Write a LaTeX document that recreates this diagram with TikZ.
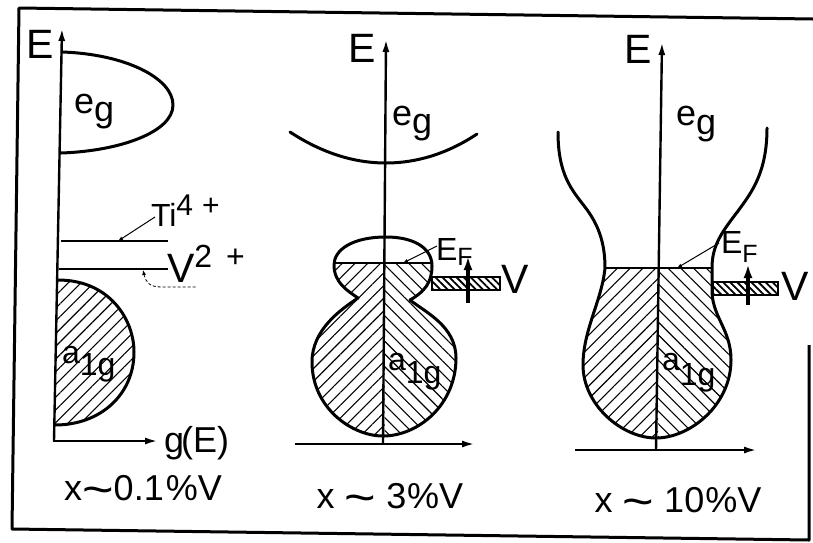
\documentclass[tikz,border=0pt]{standalone}
\usepackage{fontspec}
\usepackage{graphicx}
\setmainfont{Liberation Sans}
\usetikzlibrary{arrows.meta,patterns.meta}
\newcommand{\tld}{\raisebox{-5pt}{\scalebox{1.5}[1.3]{\symbol{"7E}}}}
\begin{document}
\begin{tikzpicture}[x=1pt,y=-1pt,
  lab/.style={inner sep=0pt,outer sep=0pt,font=\fontsize{36}{40}\selectfont},
  big/.style={inner sep=0pt,outer sep=0pt,font=\fontsize{41}{44}\selectfont},
  sml/.style={inner sep=0pt,outer sep=0pt,font=\fontsize{32}{36}\selectfont},
  frame/.style={line width=3pt,line join=round},
  curve/.style={line width=3pt,line join=round,line cap=round},
  level/.style={line width=2.4pt},
  axis/.style={line width=2.4pt,-{Latex[length=13pt,width=7pt]}},
  lead/.style={line width=1pt,{Latex[length=5pt,width=4pt]}-},
  hatchL/.style={pattern={Lines[angle=45,distance=9pt,line width=1.1pt]}},
  hatchR/.style={pattern={Lines[angle=-45,distance=9pt,line width=1.1pt]}},
  band/.style={line width=2.6pt,pattern={Lines[angle=-45,distance=5pt,line width=1.8pt]}},
  varrow/.style={line width=3.4pt,-{Latex[length=14pt,width=9pt]}}
]
\useasboundingbox (0,0) rectangle (813,542);
% frame
\coordinate (f1) at (19,8);
\coordinate (f2) at (813,19);
\coordinate (f3) at (809,345);
\coordinate (f4) at (809,540);
\coordinate (f5) at (12,529);
\draw[frame] (f2) -- (f1) -- (f5) -- (f4) -- (f3);

% ================= left panel =================
\coordinate (La0) at (54,441);
\coordinate (Latop) at (62,28);
\coordinate (Lah) at (53,441);
\coordinate (Laend) at (158,441);
% a1g lobe
\fill[hatchL] (58,280) .. controls (110,280) and (134,320) .. (134,352)
  .. controls (134,395) and (100,425) .. (55,425) -- cycle;
\draw[curve] (58,280) .. controls (110,280) and (134,320) .. (134,352)
  .. controls (134,395) and (100,425) .. (55,425);
% eg lobe
\draw[curve] (62,52) .. controls (125,54) and (173,78) .. (173,105)
  .. controls (173,132) and (120,151) .. (61,153);
% levels
\coordinate (Ti0) at (61,241); \coordinate (Ti1) at (168,241);
\coordinate (V0) at (59,269);  \coordinate (V1) at (168,269);
\draw[level] (Ti0) -- (Ti1);
\draw[level] (V0) -- (V1);
\draw[axis] (La0) -- (Latop);
\draw[axis] (Lah) -- (Laend);
\node[big] (LE) at (40,44) {E};
\node[lab,anchor=base west] (Leg) at (74,113) {e\raisebox{-8pt}{g}};
\node[sml,anchor=base west] (La1g) at (62,363) {a\raisebox{-12pt}{1g}};
\node[sml,anchor=base west] (LTi) at (151,226) {Ti\raisebox{11pt}{\fontsize{30}{30}\selectfont 4\hspace{9pt}+}};
\node[big,anchor=base west] (LV) at (167,282) {V\raisebox{15pt}{\fontsize{32}{32}\selectfont 2\hspace{14pt}+}};
\coordinate (TiL) at (118,241);
\coordinate (TiT) at (155,217);
\draw[lead] (TiL) -- (TiT);
\coordinate (VL) at (143,270);
\coordinate (VT) at (197,287);
\draw[lead,densely dashed,line width=0.8pt] (VL) .. controls (146,283) and (150,287) .. (162,287) -- (VT);
\node[lab,anchor=base west] (LgE) at (164,452) {g\kern-3pt(E)};
\node[lab,anchor=base] (Lx) at (143,500) {x\tld0.1\kern2pt\%V};

% ================= middle panel =================
\coordinate (Ma0) at (383,444);
\coordinate (Matop) at (386,39);
\coordinate (Mah) at (295,444);
\coordinate (Maend) at (475,444);
\begin{scope}
\clip (386,237) .. controls (352,237) and (334,250) .. (334,265)
  .. controls (334,283) and (348,291) .. (358,298)
  .. controls (340,310) and (312,330) .. (312,362)
  .. controls (312,408) and (352,436) .. (383,436)
  .. controls (418,436) and (456,405) .. (456,358)
  .. controls (456,326) and (425,312) .. (410,300)
  .. controls (424,292) and (432,283) .. (432,266)
  .. controls (432,248) and (414,237) .. (386,237) -- cycle;
\fill[hatchL] (300,263) rectangle (384.5,445);
\fill[hatchR] (384.5,263) rectangle (470,445);
\end{scope}
\draw[curve] (386,237) .. controls (352,237) and (334,250) .. (334,265)
  .. controls (334,283) and (348,291) .. (358,298)
  .. controls (340,310) and (312,330) .. (312,362)
  .. controls (312,408) and (352,436) .. (383,436)
  .. controls (418,436) and (456,405) .. (456,358)
  .. controls (456,326) and (425,312) .. (410,300)
  .. controls (424,292) and (432,283) .. (432,266)
  .. controls (432,248) and (414,237) .. (386,237) -- cycle;
\coordinate (MF0) at (334,263); \coordinate (MF1) at (432,263);
\draw[level] (MF0) -- (MF1);
% eg parabola
\draw[curve] (290,132) .. controls (322,153) and (354,163) .. (386,163)
  .. controls (416,163) and (447,154) .. (477,134);
\draw[axis] (Ma0) -- (Matop);
\draw[axis] (Mah) -- (Maend);
\node[big] (ME) at (362,48) {E};
\node[lab,anchor=base west] (Meg) at (392,125) {e\raisebox{-8pt}{g}};
\node[sml,anchor=base west] (Ma1g) at (388,370) {a\raisebox{-13pt}{1g}};
\node[sml,anchor=base west] (MEF) at (436,260) {E\raisebox{-5pt}{\fontsize{25}{25}\selectfont F}};
\coordinate (MFL) at (403,263);
\coordinate (MFT) at (437,246);
\draw[lead] (MFL) -- (MFT);
\draw[band] (432,277) rectangle (500,290);
\coordinate (Mv0) at (468,303); \coordinate (Mv1) at (468,256);
\draw[varrow] (Mv0) -- (Mv1);
\node[big,anchor=base] (MV) at (515,293) {V};
\node[lab,anchor=base] (Mx) at (390,508) {x \tld{} 3\kern1pt\%V};

% ================= right panel =================
\coordinate (Ra0) at (656,450);
\coordinate (Ratop) at (662,42);
\coordinate (Rah) at (575,450);
\coordinate (Raend) at (757,450);
\begin{scope}
\clip (605,268) .. controls (602,300) and (583,330) .. (583,365)
  .. controls (583,405) and (622,438) .. (656,438)
  .. controls (690,438) and (731,405) .. (731,360)
  .. controls (731,330) and (713,318) .. (712,292) -- (712,268) -- cycle;
\fill[hatchL] (575,268) rectangle (658,445);
\fill[hatchR] (658,268) rectangle (740,445);
\end{scope}
\draw[curve] (558,132) .. controls (558,175) and (572,190) .. (585,207)
  .. controls (598,224) and (605,242) .. (605,268)
  .. controls (602,300) and (583,330) .. (583,365)
  .. controls (583,405) and (622,438) .. (656,438)
  .. controls (690,438) and (731,405) .. (731,360)
  .. controls (731,330) and (713,318) .. (712,292) -- (712,268)
  .. controls (712,245) and (722,232) .. (738,211)
  .. controls (752,192) and (767,172) .. (767,128);
\coordinate (RF0) at (605,268); \coordinate (RF1) at (712,268);
\draw[level] (RF0) -- (RF1);
\draw[axis] (Ra0) -- (Ratop);
\draw[axis] (Rah) -- (Raend);
\node[big] (RE) at (638,49) {E};
\node[lab,anchor=base west] (Reg) at (676,125) {e\raisebox{-9pt}{g}};
\node[sml,anchor=base west] (Ra1g) at (662,370) {a\raisebox{-15pt}{1g}};
\node[sml,anchor=base west] (REF) at (721,253) {E\raisebox{-9pt}{\fontsize{25}{25}\selectfont F}};
\coordinate (RFL) at (677,268);
\coordinate (RFT) at (719,243);
\draw[lead] (RFL) -- (RFT);
\draw[band] (713,282) rectangle (778,295);
\coordinate (Rv0) at (748,305); \coordinate (Rv1) at (748,264);
\draw[varrow] (Rv0) -- (Rv1);
\node[big,anchor=base] (RV) at (795,300) {V};
\node[lab,anchor=base] (Rx) at (678,512) {x \tld{} 10\kern1pt\%V};
\end{tikzpicture}
\end{document}
